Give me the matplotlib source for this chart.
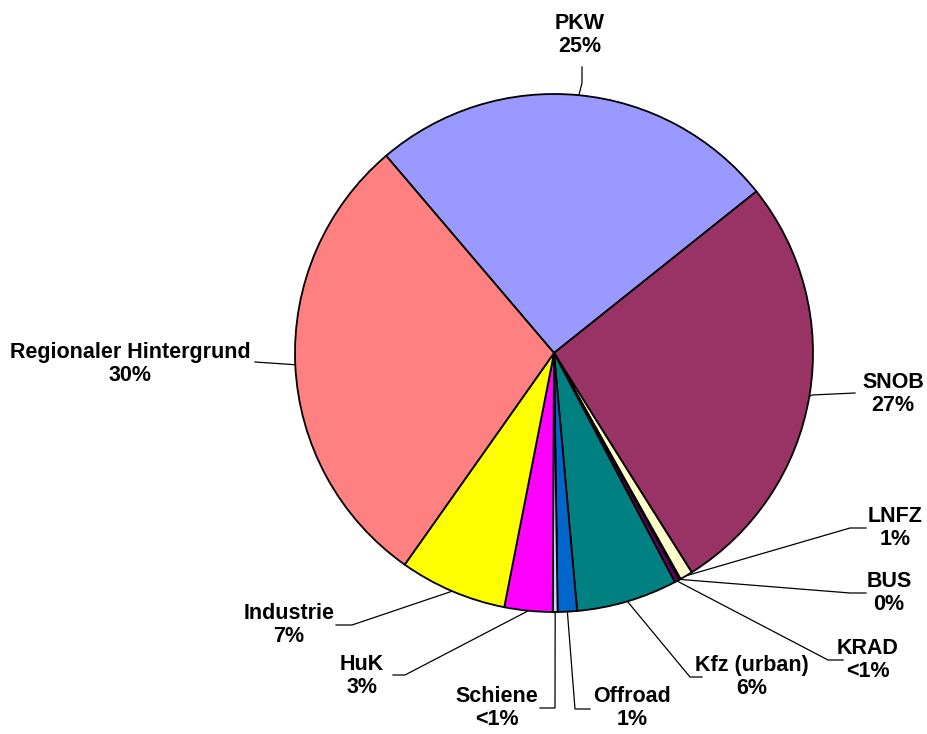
import numpy as np
import matplotlib.pyplot as plt

# Anteile (%) im Uhrzeigersinn ab PKW
namen = ['PKW', 'SNOB', 'LNFZ', 'BUS', 'KRAD', 'Kfz (urban)', 'Offroad',
         'Schiene', 'HuK', 'Industrie', 'Regionaler Hintergrund']
werte = [25.5, 26.8, 0.8, 0.1, 0.3, 6.3, 1.2, 0.3, 3.0, 6.7, 29.0]
texte = ['25%', '27%', '1%', '0%', '<1%', '6%', '1%', '<1%', '3%', '7%', '30%']
farben = ['#9999FF', '#993366', '#FFFFCC', '#FFFFFF', '#660066', '#008080',
          '#0066CC', '#CCCCFF', '#FF00FF', '#FFFF00', '#FF8080']

H = 734
# Beschriftung: Knick (x, y), Linienende (x, y), Textmitte (x, y) in Pixel
layout = [
    ((582, 83), (582, 67), (580, 35)),
    ((812, 395), (855, 393), (893, 394)),
    ((850, 528), (866, 528), (895, 528)),
    ((850, 593), (866, 593), (889, 593)),
    ((828, 660), (843, 660), (868, 660)),
    ((690, 677), (702, 677), (752, 677)),
    ((575, 709), (590, 709), (632, 708)),
    ((555, 708), (540, 708), (497, 708)),
    ((405, 675), (393, 675), (362, 676)),
    ((352, 625), (336, 625), (289, 625)),
    ((255, 362), (255, 362), (130, 364)),
]

fig = plt.figure(figsize=(9.27, 7.34), dpi=100)
ax = fig.add_axes([0, 0, 1, 1])
cx, cy, r = 554, H - 353, 259

wedges, _ = ax.pie(werte, colors=farben, startangle=130.4, counterclock=False,
                   center=(cx, cy), radius=r, frame=True,
                   wedgeprops=dict(edgecolor='black', linewidth=1.3))

for w, name, txt, (knick, ende, tpos) in zip(wedges, namen, texte, layout):
    mid = np.deg2rad((w.theta1 + w.theta2) / 2)
    x0 = cx + r * np.cos(mid)
    y0 = cy + r * np.sin(mid)
    xs = [x0, knick[0], ende[0]]
    ys = [y0, H - knick[1], H - ende[1]]
    ax.plot(xs, ys, color='black', linewidth=0.9, zorder=0)
    ax.text(tpos[0], H - tpos[1], name + '\n' + txt, ha='center', va='center',
            fontsize=15.5, fontweight='bold', family='Liberation Sans',
            linespacing=1.1)

ax.set_xlim(0, 927)
ax.set_ylim(0, H)
ax.set_aspect('equal')
ax.axis('off')
fig.savefig('out.png', dpi=100)
